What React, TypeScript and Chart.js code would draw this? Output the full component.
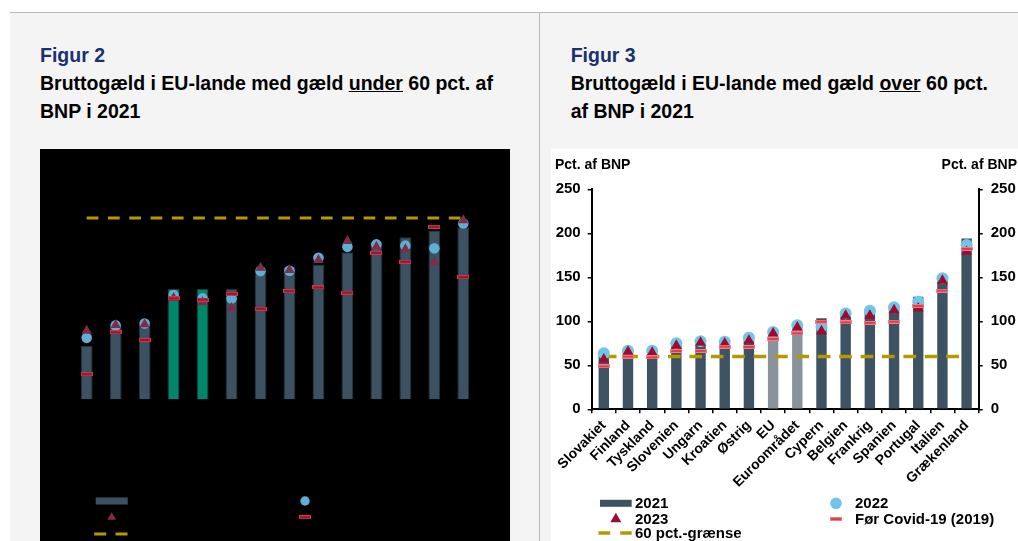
import React, { useEffect, useRef } from 'react';
import { Chart, registerables } from 'chart.js';

Chart.register(...registerables);

const FONT = '"Liberation Sans", Arial, Helvetica, sans-serif';

// ---------- Figur 2 (gæld under 60 pct.) ----------
const underCats = ['Estland', 'Luxembourg', 'Bulgarien', 'Danmark (KOM)', 'Danmark (FM)', 'Sverige', 'Tjekkiet', 'Litauen', 'Letland', 'Rumænien', 'Holland', 'Polen', 'Irland', 'Malta'];
const under2021 = [17.9, 24.2, 24.7, 36.6, 36.6, 36.6, 41.8, 44.0, 44.7, 48.7, 52.0, 53.7, 55.9, 57.0];
const under2022 = [20.5, 24.6, 25.2, 34.6, 33.5, 33.5, 42.5, 42.6, 46.9, 50.5, 51.3, 50.9, 50.0, 58.2];
const under2023 = [22.8, 24.7, 25.0, 33.6, 32.2, 30.3, 43.6, 42.9, 46.2, 52.4, 50.5, 49.7, 45.3, 59.3];
const under2019 = [8.5, 22.3, 19.8, 33.5, 33.1, 35.0, 30.1, 35.9, 37.1, 35.4, 48.5, 45.6, 57.1, 40.5];
const underLimit = [60, 60, 60, 60, 60, 60, 60, 60, 60, 60, 60, 60, 60, 60];
const underHighlight = ['Danmark (KOM)', 'Danmark (FM)'];

// ---------- Figur 3 (gæld over 60 pct.) ----------
const overCats = ['Slovakiet', 'Finland', 'Tyskland', 'Slovenien', 'Ungarn', 'Kroatien', 'Østrig', 'EU', 'Euroområdet', 'Cypern', 'Belgien', 'Frankrig', 'Spanien', 'Portugal', 'Italien', 'Grækenland'];
const over2021 = [61.0, 66.0, 65.0, 75.0, 77.0, 76.0, 81.0, 87.0, 95.0, 103.4, 108.0, 112.5, 117.0, 128.0, 149.0, 194.0];
const over2022 = [63.6, 66.6, 66.6, 75.0, 77.3, 76.8, 81.4, 87.8, 95.4, 93.9, 109.0, 112.0, 115.9, 122.3, 148.9, 186.7];
const over2023 = [56.8, 65.5, 64.4, 72.4, 75.8, 75.0, 78.0, 86.4, 93.2, 89.0, 106.4, 106.4, 112.8, 114.8, 146.2, 179.1];
const over2019 = [48.8, 59.8, 59.0, 66.3, 66.3, 71.2, 70.8, 79.9, 86.3, 99.6, 98.8, 98.2, 99.6, 117.4, 134.8, 182.2];
const overLimit = [60, 60, 60, 60, 60, 60, 60, 60, 60, 60, 60, 60, 60, 60, 60, 60];
const overHighlight = ['EU', 'Euroområdet'];

const legendLabels = { bar: '2021', circle: '2022', triangle: '2023', dash: 'Før Covid-19 (2019)', limit: '60 pct.-grænse' };
const unitLabel = 'Pct. af BNP';

function makeDashImage(w: number, h: number, outer: string, inner: string) {
  const c = document.createElement('canvas');
  c.width = w;
  c.height = h;
  const g = c.getContext('2d')!;
  g.fillStyle = outer;
  g.fillRect(0, 0, w, h);
  g.fillStyle = inner;
  g.fillRect(1, 1, w - 2, h - 2);
  return c;
}

type Spec = {
  cats: string[];
  v21: number[];
  v22: number[];
  v23: number[];
  v19: number[];
  limit: number[];
  highlight: string[];
  barColor: string;
  hiColor: string;
  barBorderColor: string;
  barBorderWidth: number;
  barPct: number;
  circleColor: string;
  circleR: number;
  triColor: string;
  triR: number;
  dashImg: HTMLCanvasElement;
  limitColor: string;
  limitDash: number[];
  limitWidth: number;
  textColor: string;
  axisColor: string;
  max: number;
  step: number;
  padTop: number;
  yW: number;
  y2W: number;
  xH: number;
  width: number;
  legend: any;
};

function makeDecorPlugin(spec: Spec) {
  return {
    id: 'decor',
    afterDraw(chart: any) {
      const ctx = chart.ctx as CanvasRenderingContext2D;
      const L = spec.legend;
      ctx.save();
      // unit labels
      ctx.fillStyle = spec.textColor;
      ctx.font = `bold 14px ${FONT}`;
      ctx.textBaseline = 'alphabetic';
      ctx.textAlign = 'left';
      ctx.fillText(unitLabel, L.unitLeftX, L.unitY);
      ctx.textAlign = 'right';
      ctx.fillText(unitLabel, L.unitRightX, L.unitY);

      // legend
      const ds = chart.data.datasets;
      // bar swatch
      ctx.fillStyle = spec.barColor;
      ctx.fillRect(L.c1x, L.row1 - 3.5, L.swW, 7);
      // triangle
      ctx.fillStyle = ds[3].pointBackgroundColor;
      const r = L.triR;
      ctx.beginPath();
      ctx.moveTo(L.c1x + L.swW / 2, L.row2 - r);
      ctx.lineTo(L.c1x + L.swW / 2 + r * 0.866, L.row2 + r / 2);
      ctx.lineTo(L.c1x + L.swW / 2 - r * 0.866, L.row2 + r / 2);
      ctx.closePath();
      ctx.fill();
      // dashed
      ctx.strokeStyle = ds[1].borderColor;
      ctx.lineWidth = spec.limitWidth;
      ctx.setLineDash(L.legDash);
      ctx.beginPath();
      ctx.moveTo(L.c1x - 1.5, L.row3);
      ctx.lineTo(L.c1x + L.swW, L.row3);
      ctx.stroke();
      ctx.setLineDash([]);
      // circle
      ctx.fillStyle = ds[2].pointBackgroundColor;
      ctx.beginPath();
      ctx.arc(L.c2x, L.row1, L.circR, 0, Math.PI * 2);
      ctx.fill();
      // red dash
      const img = spec.dashImg;
      ctx.drawImage(img, L.c2x - img.width / 2, L.row2 - img.height / 2);

      ctx.fillStyle = spec.textColor;
      ctx.font = `bold 15px ${FONT}`;
      ctx.textAlign = 'left';
      ctx.textBaseline = 'middle';
      ctx.fillText(legendLabels.bar, L.t1x, L.row1 + 0.5);
      ctx.fillText(legendLabels.triangle, L.t1x, L.row2 + 0.5);
      ctx.fillText(legendLabels.limit, L.t1x, L.row3 + 1);
      ctx.fillText(legendLabels.circle, L.t2x, L.row1 + 0.5);
      ctx.fillText(legendLabels.dash, L.t2x, L.row2 + 0.5);
      ctx.restore();
    },
  };
}

function buildConfig(spec: Spec): any {
  const font = { family: FONT, size: 15, weight: 'bold' as const };
  const yCommon = (w: number, pad: number) => ({
    min: 0,
    max: spec.max,
    ticks: { stepSize: spec.step, color: spec.textColor, font, padding: pad },
    grid: { drawOnChartArea: false, tickLength: 4, color: spec.axisColor, lineWidth: 1.5 },
    border: { display: true, color: spec.axisColor, width: 2 },
    afterFit: (s: any) => {
      s.width = w;
      s.paddingTop = 0;
      s.paddingBottom = 0;
    },
  });
  return {
    type: 'bar',
    data: {
      labels: spec.cats,
      datasets: [
        {
          type: 'bar',
          label: legendLabels.bar,
          data: spec.v21,
          backgroundColor: spec.cats.map((c) => (spec.highlight.includes(c) ? spec.hiColor : spec.barColor)),
          borderColor: spec.barBorderColor,
          borderWidth: spec.barBorderWidth,
          barPercentage: spec.barPct,
          categoryPercentage: 1,
          order: 5,
          yAxisID: 'y',
        },
        {
          type: 'line',
          label: legendLabels.limit,
          data: spec.limit,
          borderColor: spec.limitColor,
          borderWidth: spec.limitWidth,
          borderDash: spec.limitDash,
          pointRadius: 0,
          fill: false,
          order: 4,
          yAxisID: 'y',
        },
        {
          type: 'line',
          label: legendLabels.circle,
          data: spec.v22,
          showLine: false,
          pointStyle: 'circle',
          pointRadius: spec.circleR,
          pointBackgroundColor: spec.circleColor,
          pointBorderWidth: 0,
          order: 3,
          yAxisID: 'y',
        },
        {
          type: 'line',
          label: legendLabels.triangle,
          data: spec.v23,
          showLine: false,
          pointStyle: 'triangle',
          pointRadius: spec.triR,
          pointBackgroundColor: spec.triColor,
          pointBorderWidth: 0,
          order: 2,
          yAxisID: 'y',
        },
        {
          type: 'line',
          label: legendLabels.dash,
          data: spec.v19,
          showLine: false,
          pointStyle: spec.dashImg,
          pointRadius: 6,
          pointBorderWidth: 0,
          order: 1,
          yAxisID: 'y',
        },
      ],
    },
    options: {
      responsive: false,
      animation: false,
      events: [],
      layout: { padding: { top: spec.padTop, left: 0, right: 0, bottom: 0 } },
      plugins: { legend: { display: false }, tooltip: { enabled: false }, title: { display: false } },
      scales: {
        x: {
          offset: true,
          grid: { display: true, drawOnChartArea: false, offset: true, tickLength: 4, color: spec.axisColor, lineWidth: 1.5 },
          border: { display: true, color: spec.axisColor, width: 2 },
          ticks: { color: spec.textColor, font: { family: FONT, size: 14, weight: 'bold' }, minRotation: 45, maxRotation: 45, autoSkip: false, padding: 4 },
          afterFit: (s: any) => {
            s.height = spec.xH;
            s.paddingLeft = 0;
            s.paddingRight = 0;
          },
        },
        y: { position: 'left', ...yCommon(spec.yW, 7) },
        y2: { position: 'right', ...yCommon(spec.y2W, 8) },
      },
    },
    plugins: [makeDecorPlugin(spec)],
  };
}

function ChartCanvas({ make, width, height }: { make: () => Spec; width: number; height: number }) {
  const ref = useRef<HTMLCanvasElement>(null);
  useEffect(() => {
    if (!ref.current) return;
    const chart = new Chart(ref.current, buildConfig(make()));
    return () => chart.destroy();
  }, []);
  return <canvas ref={ref} width={width} height={height} style={{ display: 'block', width, height }} />;
}

const makeUnder = (): Spec => ({
  cats: underCats,
  v21: under2021,
  v22: under2022,
  v23: under2023,
  v19: under2019,
  limit: underLimit,
  highlight: underHighlight,
  barColor: '#3c5262',
  hiColor: '#00866a',
  barBorderColor: '#26343e',
  barBorderWidth: 1,
  barPct: 0.41,
  circleColor: '#5eaed6',
  circleR: 5.3,
  triColor: '#7e2c48',
  triR: 6,
  dashImg: makeDashImage(12, 4, '#dc2c46', '#8a1c31'),
  limitColor: '#b39a00',
  limitDash: [11.7, 9.6],
  limitWidth: 3,
  textColor: '#000000',
  axisColor: '#000000',
  max: 70,
  step: 10,
  padTop: 38.7,
  yW: 32.2,
  y2W: 32.2,
  xH: 141,
  width: 470,
  legend: {
    unitLeftX: 4, unitRightX: 466, unitY: 20,
    c1x: 55.7, swW: 32, t1x: 92, c2x: 265, t2x: 282,
    row1: 352, row2: 368.3, row3: 385,
    triR: 5, circR: 4.7, legDash: [12, 9.3],
  },
});

const makeOver = (): Spec => ({
  cats: overCats,
  v21: over2021,
  v22: over2022,
  v23: over2023,
  v19: over2019,
  limit: overLimit,
  highlight: overHighlight,
  barColor: '#3d5262',
  hiColor: '#89939b',
  barBorderColor: 'rgba(0,0,0,0)',
  barBorderWidth: 0,
  barPct: 0.43,
  circleColor: '#72c5ea',
  circleR: 6,
  triColor: '#a00a2e',
  triR: 6.3,
  dashImg: makeDashImage(12, 4, '#f08088', '#e63c47'),
  limitColor: '#b39900',
  limitDash: [12.7, 8.7],
  limitWidth: 3.3,
  textColor: '#000000',
  axisColor: '#000000',
  max: 250,
  step: 50,
  padTop: 40.3,
  yW: 40.7,
  y2W: 39.3,
  xH: 131.7,
  width: 467,
  legend: {
    unitLeftX: 4, unitRightX: 466, unitY: 20,
    c1x: 49, swW: 31.7, t1x: 84, c2x: 285, t2x: 304,
    row1: 354.3, row2: 370, row3: 384,
    triR: 6.3, circR: 5.8, legDash: [11.7, 10],
  },
});

const titleStyle: React.CSSProperties = {
  position: 'absolute',
  top: 40.8,
  fontFamily: FONT,
  fontWeight: 'bold',
  fontSize: 19.5,
  lineHeight: '28.3px',
  whiteSpace: 'nowrap',
  color: '#000',
};

export default function App() {
  return (
    <div style={{ position: 'fixed', left: 0, top: 0, width: 1018, height: 541, background: '#ffffff', overflow: 'hidden' }}>
      <div style={{ position: 'absolute', left: 9.5, top: 12, right: 0, bottom: 0, background: '#f4f4f4', borderTop: '1px solid #bababa' }} />
      <div style={{ position: 'absolute', left: 539, top: 12, width: 1, bottom: 0, background: '#bababa' }} />

      <div style={{ ...titleStyle, left: 40 }}>
        <div style={{ color: '#1a3170' }}>Figur 2</div>
        <div>Bruttogæld i EU-lande med gæld <span style={{ textDecoration: 'underline' }}>under</span> 60 pct. af</div>
        <div>BNP i 2021</div>
      </div>
      <div style={{ ...titleStyle, left: 570.7 }}>
        <div style={{ color: '#1a3170' }}>Figur 3</div>
        <div>Bruttogæld i EU-lande med gæld <span style={{ textDecoration: 'underline' }}>over</span> 60 pct.</div>
        <div>af BNP i 2021</div>
      </div>

      <div style={{ position: 'absolute', left: 40, top: 149, width: 470, height: 392, background: '#000000' }}>
        <ChartCanvas make={makeUnder} width={470} height={392} />
      </div>
      <div style={{ position: 'absolute', left: 551, top: 149, width: 467, height: 392, background: '#ffffff' }}>
        <ChartCanvas make={makeOver} width={467} height={392} />
      </div>
    </div>
  );
}
